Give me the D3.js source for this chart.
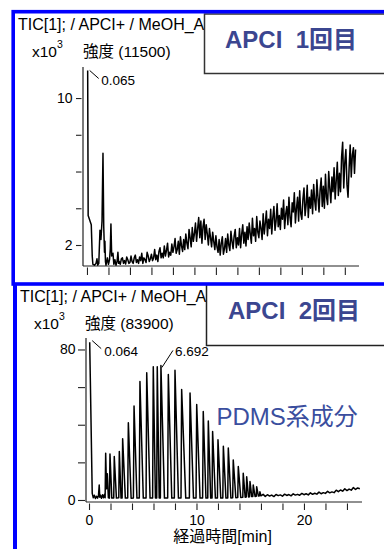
<!DOCTYPE html>
<html><head><meta charset="utf-8">
<script src="https://cdn.jsdelivr.net/npm/d3@7"></script>
<style>
html,body{margin:0;padding:0;background:#fff;}
svg{display:block;}
text{font-family:"Liberation Sans",Arial,"Noto Sans CJK JP",sans-serif;fill:#000;}
</style></head><body>
<svg id="c" width="384" height="549"></svg>
<script>
// ---------------- DATA ----------------
const xTickValues = [0,2,4,6,8,10,12,14,16,18,20,22,24];
const xTickLabeled = [0,10,20];
const yTicksTop = [2,4,6,8,10];
const yTickLabeledTop = [2,10];
const yTicksBottom = [0,20,40,60,80];
const yTickLabeledBottom = [0,80];

const headerText = ["TIC[1]; / APCI+ / MeOH_A", "TIC[1]; / APCI+ / MeOH_A"];
const intensityText = ["強度 (11500)", "強度 (83900)"];
const panelTitles = ["APCI  1回目", "APCI  2回目"];
const noteText = "PDMS系成分";
const xAxisTitle = "経過時間[min]";

// Run 1 (x10^3), early part
const tic1EarlyTimes  = [0.065,0.11,0.40,0.49,0.55,0.70,0.84,0.93,1.00,1.10,1.21,1.30,1.40,1.49,1.56,1.63,1.67,1.72,1.77,1.90,2.00,2.10,2.17,2.23,2.30,2.42,2.50,2.60,2.70,2.80,2.88,2.95];
const tic1EarlyValues = [11.5,3.6,3.1,1.4,0.95,0.9,1.0,1.25,0.9,1.0,2.8,2.3,3.3,7.0,3.0,1.6,2.2,1.1,0.9,1.3,0.95,1.2,1.8,3.15,1.4,1.55,0.95,1.2,0.9,1.1,1.6,1.0];
// Run 1 baseline, sampled every 0.1 min from 3.0 min
const tic1BaseStart = 3.0, tic1BaseStep = 0.1;
const tic1BaseValues = [
1.1,0.95,1.25,1.3,1.0,1.15,0.97,1.35,1.2,1.0,
1.05,1.4,1.1,1.0,1.3,1.45,1.05,1.2,1.0,1.35,
1.15,1.55,1.0,1.3,1.2,1.05,1.6,1.4,1.1,1.25,
1.5,1.15,1.3,1.75,1.2,1.45,1.1,1.65,1.85,1.3,
1.55,1.3,1.95,1.4,1.7,2.1,1.35,1.6,1.45,2.05,
1.6,1.9,2.35,1.55,1.75,2.2,1.5,2.45,1.95,1.65,
2.3,1.75,2.6,2.1,1.8,2.85,2.4,1.9,2.95,2.2,
2.6,3.2,2.2,2.9,3.5,2.4,3.3,2.1,3.0,3.4,
2.3,3.1,2.6,2.0,2.9,2.4,1.9,2.7,2.2,1.75,
2.5,1.9,1.6,2.3,1.45,2.1,2.45,1.5,1.8,2.35,
1.6,2.6,2.0,1.7,2.75,2.2,1.8,2.5,2.85,1.85,
2.4,2.0,2.9,1.85,2.6,3.1,2.1,2.7,1.95,3.0,
2.3,3.2,2.6,2.1,3.45,2.5,2.9,2.2,3.55,2.7,
2.4,3.3,2.9,2.3,3.7,2.6,3.2,3.85,2.5,3.4,
2.9,3.95,2.6,3.5,4.1,2.8,3.3,4.25,3.0,3.6,
2.85,4.0,3.4,4.45,2.9,3.7,4.1,3.1,4.6,3.5,
3.0,4.3,3.8,4.85,3.2,4.0,4.6,3.3,4.95,3.7,
3.4,4.5,5.1,3.6,4.2,5.25,3.5,4.6,4.0,5.0,
3.7,5.3,4.4,3.9,5.55,4.6,3.8,5.0,5.65,4.1,
5.2,4.0,5.85,4.6,4.2,6.0,5.1,4.3,5.7,4.9,
6.2,4.5,5.5,6.5,4.7,5.9,4.9,6.8,7.6,5.1,
6.5,7.2,5.3,4.6,6.2,7.45,5.7,6.9,7.3,5.9,
7.2];

// Run 2 (x10^3), vertices up to 16 min
const tic2Times = [0.064,0.12,0.30,0.40,0.50,0.60,0.70,0.80,0.88,0.95,1.00,1.07,1.16,1.26,1.35,1.44,
1.50,1.55,1.63,1.70,1.80,1.90,1.95,2.12,2.30,2.35,2.55,2.77,2.82,2.98,3.08,3.13,3.38,3.60,3.66,3.92,4.13,4.19,4.46,4.68,4.74,5.05,5.31,5.37,5.68,5.92,5.98,6.18,6.30,6.35,6.53,6.64,6.692,7.02,7.32,7.38,7.70,7.94,8.00,8.32,8.56,8.62,9.00,9.34,9.40,9.72,9.96,10.02,10.33,10.57,10.63,10.88,11.05,11.10,11.32,11.45,11.50,11.76,11.95,12.00,12.26,12.45,12.50,12.74,12.91,12.96,13.20,13.37,13.42,13.66,13.84,13.89,14.12,14.31,14.35,14.53,14.63,14.67,14.84,14.94,14.98,15.14,15.24,15.28,15.45,15.56,15.60,15.76,15.86,15.90];
const tic2Values = [83.9,65,3.5,1.2,2.5,0.8,2.0,1.0,2.2,8.0,1.5,2.5,0.9,2.8,1.2,3.0,
1.2,24.9,6,14,1.2,1.0,24.5,1.0,1.1,23.1,1.0,1.2,25.8,1.0,1.1,32.5,1.0,1.1,41,0.9,1.0,50,1.0,1.1,63,1.0,1.1,67.6,1.0,1.1,70.8,1.0,1.1,70.8,1.0,1.1,71.5,1.0,1.1,66.7,1.0,1.1,69,1.0,1.1,58.7,1.0,1.1,56.9,1.0,1.1,50.7,1.0,1.1,47,1.0,1.1,42,1.0,1.1,36.4,1.0,1.1,32,1.0,1.1,28.6,1.0,1.1,27.6,1.1,1.2,21.3,1.2,1.3,17.8,1.3,1.4,14.2,1.5,1.6,12.4,1.6,1.7,9.8,1.8,1.9,8.0,1.9,2.0,7.1,2.1,2.2,4.4];
// Run 2 tail, sampled every 0.2 min from 16.0 min
const tic2TailStart = 16.0, tic2TailStep = 0.2;
const tic2TailValues = [2.2,3.0,1.9,2.8,2.1,2.6,1.8,2.9,2.3,
2.7,2.0,3.1,2.4,2.9,2.2,3.3,2.6,3.0,
2.5,3.5,2.8,3.3,2.7,3.8,3.0,3.6,3.1,
4.2,3.3,3.9,3.5,4.6,3.8,4.3,3.9,5.2,
4.4,5.3,4.7,6.0,5.0,5.8,5.2,6.6,5.6,6.4,6.0];

const peakLabels1 = [{t:0.065, v:11.5, text:"0.065"}];
const peakLabels2 = [{t:0.064, v:83.9, text:"0.064"}, {t:6.692, v:71.5, text:"6.692"}];

// ---------------- BUILD ----------------
const series1 = tic1EarlyTimes.map((t,i)=>({t, v:tic1EarlyValues[i]}))
  .concat(tic1BaseValues.map((v,i)=>({t:tic1BaseStart + i*tic1BaseStep, v})));
const series2 = tic2Times.map((t,i)=>({t, v:tic2Values[i]}))
  .concat(tic2TailValues.map((v,i)=>({t:tic2TailStart + i*tic2TailStep, v})));

const svg = d3.select("#c");
svg.append("rect").attr("width",384).attr("height",549).attr("fill","#fff");

const ink = "#000";
const BLUE = "#0000ff";
const titleColor = "#3b4690";

const x1 = d3.scaleLinear().domain([-0.37, 25.32]).range([83, 359]);
const y1 = d3.scaleLinear().domain([0.857, 11.69]).range([266, 67]);
const x2 = d3.scaleLinear().domain([-0.28, 25.4]).range([86, 362]);
const y2 = d3.scaleLinear().domain([-1.07, 86.1]).range([502, 338]);

function drawPanel(g, x, y, series, opt){
  g.append("line").attr("x1",x.range()[0]).attr("x2",x.range()[0])
    .attr("y1",y.range()[1]).attr("y2",y.range()[0])
    .attr("stroke","#222").attr("stroke-width",1.2);
  g.append("line").attr("x1",x.range()[0]).attr("x2",x.range()[1])
    .attr("y1",y.range()[0]).attr("y2",y.range()[0])
    .attr("stroke","#222").attr("stroke-width",1.2);
  const ya = d3.axisLeft(y).tickValues(opt.yTicks).tickSize(opt.yTickSize).tickPadding(opt.yPad)
    .tickFormat(d => opt.yLabeled.includes(d) ? String(d) : "");
  const yg = g.append("g").attr("transform",`translate(${opt.yTickX},0)`).call(ya);
  yg.select(".domain").remove();
  yg.selectAll("line").attr("stroke","#222").attr("stroke-width",1.1);
  yg.selectAll("text").attr("font-size",14).attr("font-family",null).attr("fill",ink);
  const xa = d3.axisBottom(x).tickValues(xTickValues).tickSize(opt.xTickSize).tickPadding(5)
    .tickFormat(d => opt.xLabels && xTickLabeled.includes(d) ? String(d) : "");
  const xg = g.append("g").attr("transform",`translate(0,${opt.xTickY})`).call(xa);
  xg.select(".domain").remove();
  xg.selectAll("line").attr("stroke","#222").attr("stroke-width",1.1);
  xg.selectAll("text").attr("font-size",14).attr("font-family",null).attr("fill",ink);
  const line = d3.line().x(d=>x(d.t)).y(d=>y(d.v));
  g.append("path").datum(series).attr("d",line)
    .attr("fill","none").attr("stroke",ink).attr("stroke-width",opt.lw).attr("stroke-linejoin","round");
}

const g1 = svg.append("g");
drawPanel(g1, x1, y1, series1, {yTicks:yTicksTop, yLabeled:yTickLabeledTop, yTickX:81.5, yTickSize:5.5, yPad:3.5, xTickY:267.5, xTickSize:7.5, xLabels:false, lw:1.5});

const g2 = svg.append("g");
drawPanel(g2, x2, y2, series2, {yTicks:yTicksBottom, yLabeled:yTickLabeledBottom, yTickX:85, yTickSize:7, yPad:2.5, xTickY:503.5, xTickSize:6.5, xLabels:true, lw:1.5});

function annotate(g, x, y, p, dx1, dy1, dx2, dy2, tx, ty){
  const px = x(p.t), py = y(p.v);
  g.append("line").attr("x1",px+dx1).attr("y1",py+dy1).attr("x2",px+dx2).attr("y2",py+dy2)
    .attr("stroke",ink).attr("stroke-width",1);
  g.append("text").attr("x",px+tx).attr("y",py+ty).attr("font-size",13.5).text(p.text);
}
annotate(g1, x1, y1, peakLabels1[0], 2, 0, 11, 8, 13.5, 15);
annotate(g2, x2, y2, peakLabels2[0], 2.5, -1.5, 11.5, 6.5, 14.5, 13.5);
annotate(g2, x2, y2, peakLabels2[1], 1, 2, 12, -15, 14, -9.5);

function header(g, i, x0, yb){
  g.append("text").attr("x",x0).attr("y",yb).attr("font-size",16).text(headerText[i]);
  const t = g.append("text").attr("x",x0+14).attr("y",yb+27).attr("font-size",15.5);
  t.append("tspan").text("x10");
  t.append("tspan").attr("font-size",10.5).attr("dy",-9).text("3");
  g.append("text").attr("x",x0+65).attr("y",yb+27).attr("font-size",15.5).text(intensityText[i]);
}
header(g1, 0, 18, 30);
header(g2, 1, 20, 301.5);

g2.append("text").attr("x",222.5).attr("y",542).attr("text-anchor","middle")
  .attr("font-size",16).text(xAxisTitle);

svg.append("text").attr("x",216.5).attr("y",425).attr("font-size",24)
  .style("fill","#3a4e9e").text(noteText);

svg.append("rect").attr("x",204.5).attr("y",14).attr("width",200).attr("height",59.5)
  .attr("fill","#fff").attr("stroke","#333").attr("stroke-width",1.5);
svg.append("text").attr("x",225).attr("y",48).attr("font-size",24).attr("font-weight","bold")
  .style("white-space","pre").style("fill",titleColor).text(panelTitles[0]);

svg.append("rect").attr("x",206.5).attr("y",284).attr("width",200).attr("height",61.5)
  .attr("fill","#fff").attr("stroke","#222").attr("stroke-width",1.5);
svg.append("text").attr("x",228).attr("y",318.5).attr("font-size",24).attr("font-weight","bold")
  .style("white-space","pre").style("fill",titleColor).text(panelTitles[1]);

svg.append("rect").attr("x",13.2).attr("y",11.7).attr("width",420).attr("height",272.3)
  .attr("fill","none").attr("stroke",BLUE).attr("stroke-width",3.6);
svg.append("line").attr("x1",15).attr("x2",15).attr("y1",284).attr("y2",552)
  .attr("stroke",BLUE).attr("stroke-width",4);
</script>
</body></html>
